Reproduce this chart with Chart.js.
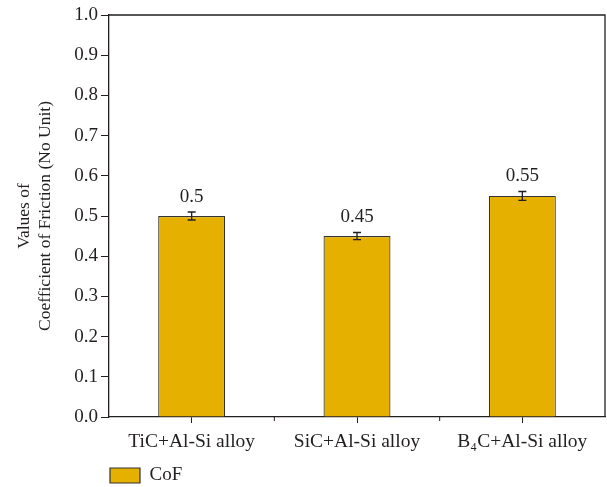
<!DOCTYPE html>
<html>
<head>
<meta charset="utf-8">
<script src="https://cdn.jsdelivr.net/npm/chart.js@4/dist/chart.umd.min.js"></script>
<style>
  html, body { margin: 0; padding: 0; background: #fff; }
  #wrap { width: 607px; height: 487px; }
</style>
</head>
<body>
<div id="wrap"><canvas id="cof-chart"></canvas></div>
<script>
// data
const categories = ['TiC+Al-Si alloy', 'SiC+Al-Si alloy', 'B\u2084C+Al-Si alloy'];
const cofValues = [0.5, 0.45, 0.55];
const cofErrors = [0.01, 0.009, 0.011];
const valueLabels = ['0.5', '0.45', '0.55'];
const yTicks = [0, 0.1, 0.2, 0.3, 0.4, 0.5, 0.6, 0.7, 0.8, 0.9, 1.0];

const FONT = "'Liberation Serif', 'DejaVu Serif', serif";
const INK = '#231f20';

// frame, minor x ticks, error bars and value labels
const extrasPlugin = {
    id: 'extras',
    afterDatasetsDraw(chart) {
        const ctx = chart.ctx;
        const area = chart.chartArea;
        const x = chart.scales.x;
        const y = chart.scales.y;

        ctx.save();
        ctx.strokeStyle = INK;
        ctx.lineWidth = 1.3;
        ctx.beginPath();
        ctx.moveTo(area.left, area.top);
        ctx.lineTo(area.right, area.top);
        ctx.lineTo(area.right, area.bottom);
        ctx.stroke();

        // minor ticks between categories
        ctx.lineWidth = 1;
        for (let i = 0; i < categories.length - 1; i++) {
            const px = (x.getPixelForValue(i) + x.getPixelForValue(i + 1)) / 2;
            ctx.beginPath();
            ctx.moveTo(px, area.bottom);
            ctx.lineTo(px, area.bottom + 4);
            ctx.stroke();
        }

        cofValues.forEach((v, i) => {
            const cx = x.getPixelForValue(i);
            const top = y.getPixelForValue(v + cofErrors[i]);
            const bot = y.getPixelForValue(v - cofErrors[i]);
            ctx.strokeStyle = INK;
            ctx.lineWidth = 1.3;
            ctx.beginPath();
            ctx.moveTo(cx, top);
            ctx.lineTo(cx, bot);
            ctx.moveTo(cx - 4, top);
            ctx.lineTo(cx + 4, top);
            ctx.moveTo(cx - 4, bot);
            ctx.lineTo(cx + 4, bot);
            ctx.stroke();

            ctx.fillStyle = INK;
            ctx.font = '19px ' + FONT;
            ctx.textAlign = 'center';
            ctx.textBaseline = 'middle';
            ctx.fillText(valueLabels[i], cx, top - 15);
        });
        ctx.restore();
    }
};

const ctx = document.getElementById('cof-chart').getContext('2d');
new Chart(ctx, {
    type: 'bar',
    data: {
        labels: categories,
        datasets: [{
            label: 'CoF',
            data: cofValues,
            backgroundColor: '#e6b000',
            borderColor: '#333333',
            borderWidth: 1.2,
            barPercentage: 0.405,
            categoryPercentage: 1.0
        }]
    },
    options: {
        responsive: true,
        maintainAspectRatio: false,
        animation: false,
        layout: { padding: { top: 15, right: 2, left: 0, bottom: -8 } },
        plugins: {
            legend: {
                position: 'bottom',
                align: 'start',
                fullSize: false,
                labels: {
                    boxWidth: 30,
                    boxHeight: 15,
                    padding: 1,
                    color: INK,
                    font: { family: FONT, size: 19 }
                }
            },
            tooltip: { enabled: false }
        },
        scales: {
            x: {
                afterFit(scale) { scale.height = 48; },
                grid: { drawOnChartArea: false, offset: false, tickLength: 6, color: INK },
                border: { display: true, color: INK, width: 1.3 },
                ticks: { color: INK, padding: 7, font: { family: FONT, size: 19.5 } }
            },
            y: {
                min: 0,
                max: 1,
                afterFit(scale) { scale.width = 109; },
                afterBuildTicks(scale) { scale.ticks = yTicks.map(v => ({ value: v })); },
                grid: { drawOnChartArea: false, tickLength: 8, color: INK },
                border: { display: true, color: INK, width: 1.3 },
                ticks: {
                    color: INK,
                    padding: 3,
                    font: { family: FONT, size: 19 },
                    callback: v => v.toFixed(1)
                },
                title: {
                    display: true,
                    text: ['Values of', 'Coefficient of Friction (No Unit)'],
                    color: INK,
                    font: { family: FONT, size: 17.5, lineHeight: 1.25 },
                    padding: { top: 13, bottom: 0 }
                }
            }
        }
    },
    plugins: [extrasPlugin]
});
</script>
</body>
</html>
